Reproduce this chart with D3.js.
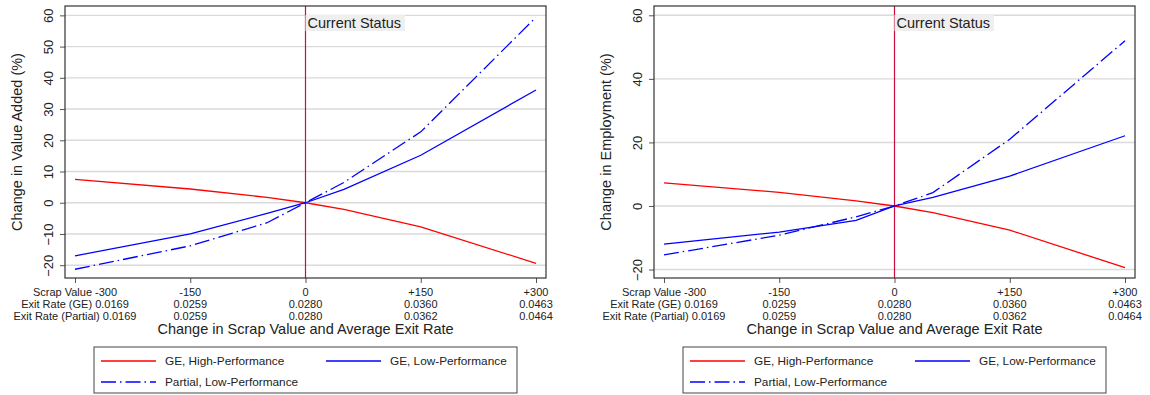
<!DOCTYPE html>
<html>
<head>
<meta charset="utf-8">
<script src="https://cdn.jsdelivr.net/npm/d3@7"></script>
<style>
  html, body { margin: 0; padding: 0; background: #fff; }
  svg { display: block; font-family: "Liberation Sans", Arial, Helvetica, sans-serif; }
</style>
</head>
<body>
<svg id="chart" width="1150" height="395"></svg>
<script>
// ---------- data ----------
const scrapValues = [-300, -150, -50, 0, 50, 150, 300];
const xTickValues = [-300, -150, 0, 150, 300];
const xTickRow1 = ["Scrap Value -300", "-150", "0", "+150", "+300"];
const xTickRow2 = ["Exit Rate (GE) 0.0169", "0.0259", "0.0280", "0.0360", "0.0463"];
const xTickRow3 = ["Exit Rate (Partial) 0.0169", "0.0259", "0.0280", "0.0362", "0.0464"];

const geHighVA     = [7.5, 4.4, 1.7, 0, -2.1, -7.7, -19.4];
const geLowVA      = [-17.0, -10.0, -3.4, 0, 4.3, 15.2, 36.1];
const partialLowVA = [-21.3, -13.8, -6.4, 0, 6.5, 22.7, 59.4];

const geHighEmp     = [7.3, 4.3, 1.6, 0, -2.1, -7.6, -19.4];
const geLowEmp      = [-12.0, -8.2, -4.5, 0, 2.7, 9.4, 22.1];
const partialLowEmp = [-15.4, -9.2, -3.4, 0, 4.2, 21.0, 52.0];

const yTicksVA  = [-20, -10, 0, 10, 20, 30, 40, 50, 60];
const yTicksEmp = [-20, 0, 20, 40, 60];

const seriesNames = ["GE, High-Performance", "GE, Low-Performance", "Partial, Low-Performance"];
const xTitle = "Change in Scrap Value and Average Exit Rate";
const markerLabel = "Current Status";

// ---------- drawing ----------
const svg = d3.select("#chart");
const RED = "#ff0000", BLUE = "#0000ff", VLINE = "#c8103e";
const DASHDOT = "15,4,1.5,4";

function panel(left, yDomain, yTicks, yTitle, seriesVals) {
  const W = 481, top = 6, bottom = 278;
  const g = svg.append("g");
  const x = d3.scaleLinear().domain([-313, 313]).range([left, left + W]);
  const y = d3.scaleLinear().domain(yDomain).range([bottom, top]);

  // gridlines
  g.selectAll("line.grid").data(yTicks).enter().append("line")
    .attr("x1", left).attr("x2", left + W)
    .attr("y1", d => y(d)).attr("y2", d => y(d))
    .attr("stroke", "#dadada").attr("stroke-width", 1.4);

  // y axis ticks & labels
  const yAxis = d3.axisLeft(y).tickValues(yTicks).tickSize(5).tickFormat(d3.format("d"));
  const ya = g.append("g").attr("transform", `translate(${left},0)`).call(yAxis);
  ya.select(".domain").remove();
  ya.selectAll(".tick line").attr("stroke", "#555");
  ya.selectAll(".tick text")
    .attr("font-size", 13).attr("fill", "#222")
    .attr("x", 0).attr("dy", 0)
    .attr("transform", "translate(-17,0) rotate(-90)")
    .attr("text-anchor", "middle")
    .attr("dominant-baseline", "central");

  g.append("text")
    .attr("transform", `translate(${left - 48},${(top + bottom) / 2}) rotate(-90)`)
    .attr("text-anchor", "middle").attr("dominant-baseline", "central")
    .attr("font-size", 14.5).attr("fill", "#222").text(yTitle);

  // x axis ticks
  const xAxis = d3.axisBottom(x).tickValues(xTickValues).tickSize(5).tickFormat("");
  const xa = g.append("g").attr("transform", `translate(0,${bottom})`).call(xAxis);
  xa.select(".domain").remove();
  xa.selectAll(".tick line").attr("stroke", "#555");

  [xTickRow1, xTickRow2, xTickRow3].forEach((row, ri) => {
    g.selectAll(null).data(xTickValues).enter().append("text")
      .attr("x", d => x(d)).attr("y", 296 + ri * 12)
      .attr("text-anchor", "middle").attr("font-size", 11).attr("fill", "#222")
      .text((d, i) => row[i]);
  });
  g.append("text").attr("x", left + W / 2).attr("y", 334)
    .attr("text-anchor", "middle").attr("font-size", 14.5).attr("fill", "#222")
    .text(xTitle);

  // vertical current status line
  g.append("line").attr("x1", x(0)).attr("x2", x(0)).attr("y1", top).attr("y2", bottom)
    .attr("stroke", VLINE).attr("stroke-width", 1.2);

  // series
  const line = d3.line().x((d, i) => x(scrapValues[i])).y(d => y(d));
  const styles = [
    { color: RED, dash: null },
    { color: BLUE, dash: null },
    { color: BLUE, dash: DASHDOT }
  ];
  seriesVals.forEach((vals, k) => {
    g.append("path").datum(vals).attr("d", line)
      .attr("fill", "none").attr("stroke", styles[k].color)
      .attr("stroke-width", 1.3)
      .attr("stroke-dasharray", styles[k].dash);
  });

  // Current Status label
  const lbl = g.append("text").attr("x", x(0) + 2).attr("y", 28)
    .attr("font-size", 14.5).attr("fill", "#222").text(markerLabel);
  const bb = lbl.node().getBBox();
  g.insert("rect", () => lbl.node())
    .attr("x", x(0)).attr("y", 15).attr("width", bb.width + 6).attr("height", 16)
    .attr("fill", "#efefef");

  // frame
  g.append("rect").attr("x", left).attr("y", top).attr("width", W).attr("height", bottom - top)
    .attr("fill", "none").attr("stroke", "#333").attr("stroke-width", 1.2);

  // legend
  const lx = left + W / 2 - 211.5, lw = 423, ly = 347, lh = 46;
  const lg = g.append("g");
  lg.append("rect").attr("x", lx).attr("y", ly).attr("width", lw).attr("height", lh)
    .attr("fill", "#fff").attr("stroke", "#444").attr("stroke-width", 1);
  const items = [
    { cx: lx + 7, cy: ly + 14 },
    { cx: lx + 232, cy: ly + 14 },
    { cx: lx + 7, cy: ly + 35 }
  ];
  items.forEach((it, k) => {
    lg.append("line").attr("x1", it.cx).attr("x2", it.cx + 55)
      .attr("y1", it.cy).attr("y2", it.cy)
      .attr("stroke", styles[k].color).attr("stroke-width", 1.3)
      .attr("stroke-dasharray", styles[k].dash);
    lg.append("text").attr("x", it.cx + 64).attr("y", it.cy)
      .attr("dominant-baseline", "central")
      .attr("font-size", 11.8).attr("fill", "#222").text(seriesNames[k]);
  });
}

panel(65, [-24.1, 63], yTicksVA, "Change in Value Added (%)", [geHighVA, geLowVA, partialLowVA]);
panel(654, [-22.66, 62.93], yTicksEmp, "Change in Employment (%)", [geHighEmp, geLowEmp, partialLowEmp]);
</script>
</body>
</html>
